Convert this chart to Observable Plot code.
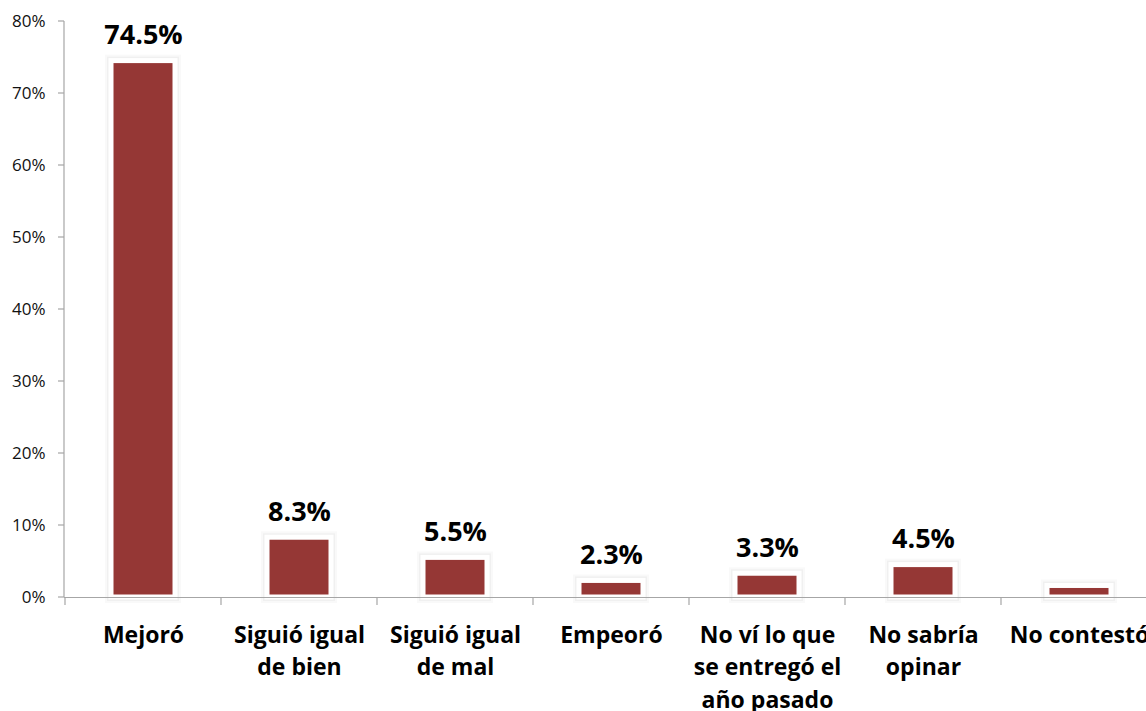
<!DOCTYPE html>
<html>
<head>
<meta charset="utf-8">
<script src="https://cdn.jsdelivr.net/npm/d3@7"></script>
<script src="https://cdn.jsdelivr.net/npm/@observablehq/plot@0.6"></script>
<style>
  html, body { margin: 0; padding: 0; background: #fff; }
  #chart svg { overflow: visible; display: block; }
</style>
</head>
<body>
<div id="chart"></div>
<script>
const categories = ["Mejoró", "Siguió igual de bien", "Siguió igual de mal", "Empeoró", "No ví lo que se entregó el año pasado", "No sabría opinar", "No contestó"];
const tickLabels = ["Mejoró", "Siguió igual\nde bien", "Siguió igual\nde mal", "Empeoró", "No ví lo que\nse entregó el\naño pasado", "No sabría\nopinar", "No contestó"];
const values = [74.5, 8.3, 5.5, 2.3, 3.3, 4.5, 1.6];
const valueLabels = ["74.5%", "8.3%", "5.5%", "2.3%", "3.3%", "4.5%", ""];
const yTicks = [0, 10, 20, 30, 40, 50, 60, 70, 80];

const data = categories.map((c, i) => ({cat: c, value: values[i], label: valueLabels[i], tick: tickLabels[i]}));
const FONT = "Open Sans, sans-serif";
const AXIS = "#a6a6a6";

function axesMark(index, scales, values, dim) {
  const x = scales.x, y = scales.y;
  const g = d3.create("svg:g").attr("stroke", AXIS).attr("stroke-width", 1.2).attr("fill", "none");
  const x0 = dim.marginLeft;
  g.append("line").attr("x1", x0).attr("x2", x0).attr("y1", y(80)).attr("y2", y(0));
  for (const t of yTicks) {
    g.append("line").attr("x1", x0 - 6).attr("x2", x0).attr("y1", y(t)).attr("y2", y(t));
  }
  const bw = x.bandwidth ? x.bandwidth() : 0;
  const step = x(categories[1]) - x(categories[0]);
  const off = (step - bw) / 2;
  const bounds = categories.map(c => x(c) - off);
  bounds.push(x(categories[categories.length - 1]) + bw + off);
  for (const b of bounds) {
    g.append("line").attr("x1", b).attr("x2", b).attr("y1", y(0)).attr("y2", y(0) + 8);
  }
  return g.node();
}

const chart = Plot.plot({
  width: 1146,
  height: 711,
  marginLeft: 64,
  marginRight: -11,
  marginTop: 21,
  marginBottom: 114,
  style: {fontFamily: FONT, background: "#fff"},
  x: {domain: categories, paddingInner: 0.59, paddingOuter: 0.295, axis: null},
  y: {domain: [0, 80], axis: null},
  marks: [
    Plot.barY(data, {x: "cat", y: "value", fill: "none", stroke: "#000", strokeOpacity: 0.025, strokeWidth: 12}),
    Plot.barY(data, {x: "cat", y: "value", fill: "none", stroke: "#000", strokeOpacity: 0.035, strokeWidth: 8}),
    Plot.barY(data, {x: "cat", y: "value", fill: "#953735", stroke: "#fff", strokeWidth: 5}),
    Plot.ruleY([0], {stroke: AXIS, strokeWidth: 1.2}),
    axesMark,
    Plot.text(yTicks, {y: d => d, text: d => d + "%", frameAnchor: "left", textAnchor: "end", dx: -19, fontSize: 17, fill: "#111", fontFamily: FONT}),
    Plot.text(data, {x: "cat", y: "value", text: "label", lineAnchor: "bottom", dy: -17, fontSize: 27, fontWeight: "bold", fill: "#000", fontFamily: FONT}),
    Plot.text(data, {x: "cat", text: "tick", frameAnchor: "bottom", lineAnchor: "top", dy: 22, lineHeight: 1.42, fontSize: 23, fontWeight: "bold", fill: "#000", fontFamily: FONT})
  ]
});
document.getElementById("chart").appendChild(chart);
</script>
</body>
</html>
